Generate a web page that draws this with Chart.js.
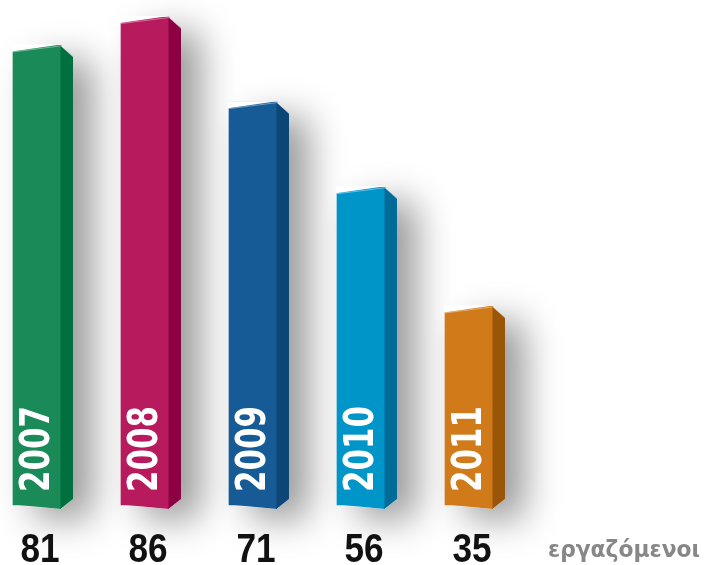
<!DOCTYPE html>
<html>
<head>
<meta charset="utf-8">
<script src="https://cdn.jsdelivr.net/npm/chart.js@4"></script>
<style>
  body { margin: 0; background: #fff; }
  canvas { display: block; }
</style>
</head>
<body>
<canvas id="chart" width="704" height="565"></canvas>
<script>
// data
const years = ['2007', '2008', '2009', '2010', '2011'];
const employees = [81, 86, 71, 56, 35];
const frontColors = ['#1a8a58', '#b71b5d', '#175b96', '#0095c9', '#d07a19'];
const sideColors = ['#00703f', '#8c0044', '#0b4676', '#006b97', '#9a5608'];
const unitLabel = 'εργαζόμενοι';

// draw text squeezed/stretched horizontally by a factor
function scaledText(ctx, text, x, y, sx) {
    ctx.save();
    ctx.translate(x, y);
    ctx.scale(sx, 1);
    ctx.fillText(text, 0, 0);
    ctx.restore();
}
// draw text fitted to a target width
function fitText(ctx, text, x, y, width) {
    scaledText(ctx, text, x, y, width / ctx.measureText(text).width);
}

const bar3d = {
    id: 'bar3d',
    beforeDatasetsDraw(chart) {
        const ctx = chart.ctx;
        const meta = chart.getDatasetMeta(0);
        ctx.save();
        meta.data.forEach(el => {
            const p = el.getProps(['x', 'y', 'base', 'width'], true);
            const l = p.x - p.width / 2, r = p.x + p.width / 2;
            ctx.shadowColor = 'rgba(0,0,0,0.4)';
            ctx.shadowBlur = 36;
            ctx.shadowOffsetX = 20;
            ctx.shadowOffsetY = 12;
            ctx.fillStyle = '#fff';
            ctx.beginPath();
            ctx.moveTo(l, p.y + 6);
            ctx.lineTo(r, p.y);
            ctx.lineTo(r + 12, p.y + 11);
            ctx.lineTo(r + 12, p.base - 6);
            ctx.lineTo(r, p.base + 4);
            ctx.lineTo(l, p.base);
            ctx.closePath();
            ctx.fill();
        });
        ctx.restore();
    },
    afterDatasetsDraw(chart) {
        const ctx = chart.ctx;
        const meta = chart.getDatasetMeta(0);
        ctx.save();
        meta.data.forEach((el, i) => {
            const p = el.getProps(['x', 'y', 'base', 'width'], true);
            const l = p.x - p.width / 2, r = p.x + p.width / 2;
            // slanted top
            ctx.fillStyle = '#fff';
            ctx.beginPath();
            ctx.moveTo(l - 1, p.y - 1);
            ctx.lineTo(r, p.y - 1);
            ctx.lineTo(l - 1, p.y + 6);
            ctx.closePath();
            ctx.fill();
            // slanted bottom
            ctx.fillStyle = frontColors[i];
            ctx.beginPath();
            ctx.moveTo(l, p.base - 0.5);
            ctx.lineTo(r, p.base - 0.5);
            ctx.lineTo(r, p.base + 4);
            ctx.closePath();
            ctx.fill();
            // side face
            ctx.fillStyle = sideColors[i];
            ctx.beginPath();
            ctx.moveTo(r - 0.5, p.y);
            ctx.lineTo(r + 12, p.y + 11);
            ctx.lineTo(r + 12, p.base - 6);
            ctx.lineTo(r - 0.5, p.base + 4);
            ctx.closePath();
            ctx.fill();
            // light top edge
            ctx.strokeStyle = 'rgba(255,255,255,0.4)';
            ctx.lineWidth = 1;
            ctx.beginPath();
            ctx.moveTo(l, p.y + 6.5);
            ctx.lineTo(r, p.y + 0.5);
            ctx.lineTo(r + 12, p.y + 11.5);
            ctx.stroke();

            // year inside bar
            ctx.save();
            ctx.translate(p.x + 1, p.base - 13);
            ctx.rotate(-Math.PI / 2);
            ctx.fillStyle = '#fff';
            ctx.font = 'bold 40px "DejaVu Sans"';
            ctx.textAlign = 'left';
            ctx.textBaseline = 'middle';
            fitText(ctx, years[i], 0, 1, 86);
            ctx.restore();

            // value below
            ctx.fillStyle = '#111';
            ctx.font = 'bold 40px "Liberation Sans"';
            ctx.textAlign = 'center';
            ctx.textBaseline = 'alphabetic';
            scaledText(ctx, String(employees[i]), p.x + 3, 562, 0.88);
        });

        ctx.fillStyle = '#878787';
        ctx.font = 'bold 23px "DejaVu Sans"';
        ctx.textAlign = 'left';
        ctx.textBaseline = 'alphabetic';
        fitText(ctx, unitLabel, 548, 557, 152);
        ctx.restore();
    }
};

new Chart(document.getElementById('chart'), {
    type: 'bar',
    data: {
        labels: years,
        datasets: [{
            data: employees,
            backgroundColor: frontColors,
            borderWidth: 0,
            barThickness: 48,
            clip: false
        }]
    },
    options: {
        responsive: false,
        animation: false,
        layout: { padding: { left: 37, right: 235, top: 0, bottom: 60 } },
        plugins: { legend: { display: false }, tooltip: { enabled: false } },
        scales: {
            x: { display: false, offset: false },
            y: { display: false, min: 0, max: 89 }
        }
    },
    plugins: [bar3d]
});
</script>
</body>
</html>
